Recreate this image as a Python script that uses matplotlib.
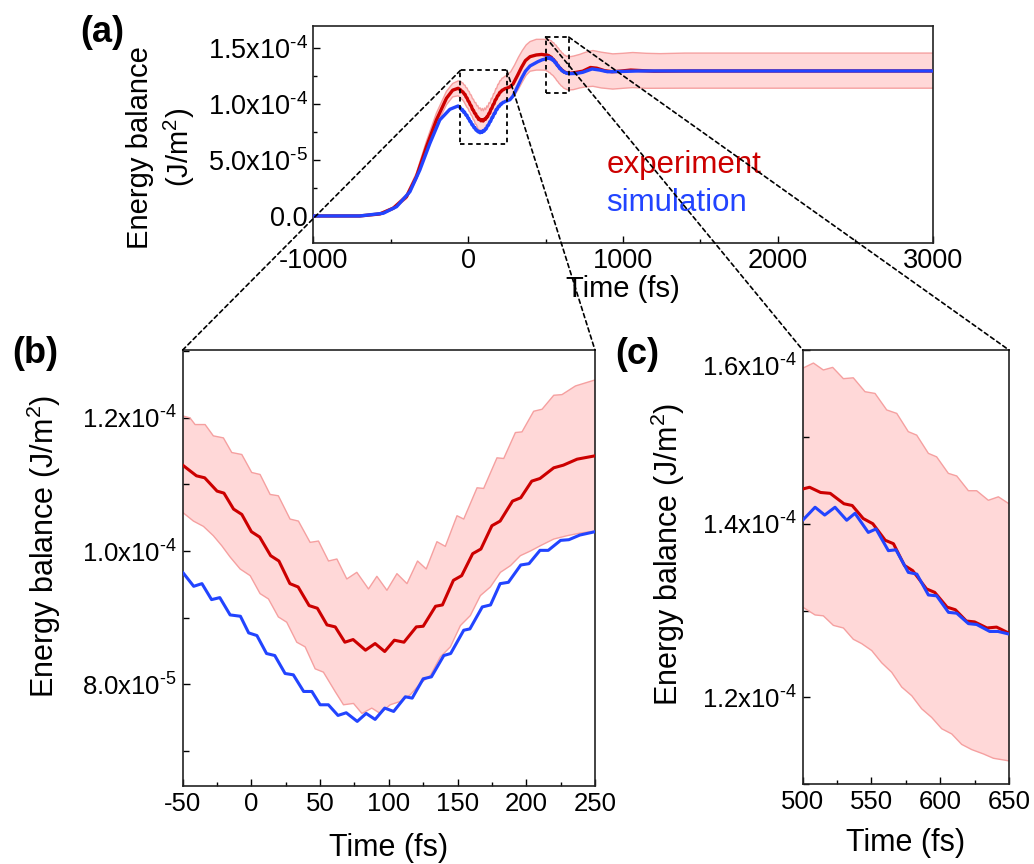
import numpy as np
import matplotlib
matplotlib.use('Agg')
import matplotlib.pyplot as plt
from matplotlib.patches import Rectangle, ConnectionPatch
from matplotlib.ticker import FuncFormatter, MultipleLocator

plt.rcParams['font.family'] = ['Liberation Sans', 'DejaVu Sans']
plt.rcParams['mathtext.fontset'] = 'custom'
plt.rcParams['mathtext.rm'] = 'Liberation Sans'
plt.rcParams['mathtext.it'] = 'Liberation Sans:italic'
plt.rcParams['axes.unicode_minus'] = False

# energy balance values in units of 1e-5 J/m^2, time in fs
t_exp = [-1000, -700, -570, -484, -398, -334, -269, -205, -140, -100, -65,
         -50, -40, -34, -25, -20, -13, -7, 0, 6, 14, 20, 28, 34, 42, 48, 55, 61, 68, 74,
         83, 90, 97, 104, 111, 120, 125, 134, 139, 147, 153, 161, 167, 175, 181, 190,
         196, 204, 210, 220, 227, 237, 250,
         270, 290, 320, 345, 370, 400, 440, 475,
         500, 505, 513, 520, 530, 536, 544, 551, 560, 566, 574, 580, 590, 596, 605,
         611, 619, 625, 634, 641, 650,
         700, 740, 790, 830, 880, 930, 980, 1050, 1120, 1200, 1400, 3000]
exp = [0.0, 0.0, 0.18, 0.69, 1.73, 3.52, 6.20, 8.59, 10.53, 11.25, 11.42,
       11.29, 11.13, 11.10, 10.90, 10.87, 10.63, 10.55, 10.29, 10.21, 9.93, 9.85, 9.51,
       9.46, 9.18, 9.14, 8.89, 8.86, 8.63, 8.67, 8.51, 8.61, 8.49, 8.66, 8.63, 8.86,
       8.87, 9.17, 9.19, 9.56, 9.63, 9.96, 10.03, 10.38, 10.45, 10.75, 10.80, 11.05,
       11.09, 11.25, 11.29, 11.38, 11.43,
       11.55, 11.80, 12.60, 13.30, 13.90, 14.25, 14.40, 14.45,
       14.40, 14.42, 14.36, 14.35, 14.23, 14.21, 14.06, 14.00, 13.81, 13.77, 13.52,
       13.46, 13.25, 13.21, 13.04, 13.01, 12.88, 12.87, 12.80, 12.81, 12.74,
       12.85, 12.95, 13.28, 13.22, 13.00, 12.90, 12.95, 13.05, 13.00, 12.95, 12.97, 12.97]

t_sim = [-1000, -700, -548, -462, -376, -312, -247, -183, -118, -65,
         -50, -42, -36, -29, -23, -15.5, -8, -2, 4, 11, 17, 24.5, 30.5, 38, 44, 50, 56,
         63, 69, 77, 83.5, 90, 97, 103.5, 112, 117, 125, 131, 140, 145, 154.5, 159, 168,
         174, 181, 187, 196, 202, 210, 216, 225, 231, 239, 250,
         270, 290, 320, 345, 370, 400, 450, 480,
         500, 509, 516, 523.5, 532, 538, 547.7, 553.3, 562.3, 567.8, 576.8, 583, 591.4,
         597.4, 606, 612, 620.5, 626.5, 636, 642, 650,
         700, 740, 800, 850, 900, 980, 1100, 3000]
sim = [0.0, 0.0, 0.24, 0.83, 2.17, 4.11, 6.50, 8.59, 9.54, 9.84,
       9.68, 9.47, 9.51, 9.27, 9.30, 9.04, 9.02, 8.77, 8.73, 8.46, 8.43, 8.16, 8.14,
       7.89, 7.89, 7.69, 7.69, 7.53, 7.57, 7.44, 7.56, 7.47, 7.64, 7.59, 7.81, 7.79,
       8.08, 8.11, 8.43, 8.46, 8.81, 8.83, 9.16, 9.19, 9.51, 9.53, 9.79, 9.81, 10.01,
       10.01, 10.16, 10.17, 10.24, 10.29,
       10.40, 10.73, 11.60, 12.32, 12.95, 13.42, 13.80, 13.98,
       14.04, 14.19, 14.10, 14.19, 14.04, 14.12, 13.90, 13.94, 13.69, 13.70, 13.44,
       13.42, 13.18, 13.17, 12.98, 12.97, 12.85, 12.84, 12.76, 12.76, 12.73,
       12.75, 12.85, 13.15, 13.05, 12.90, 12.92, 12.97, 12.97]

# experimental uncertainty band edges
t_up = [-1000, -700, -570, -484, -398, -334, -269, -205, -140, -100, -65,
        -50, -44.7, -41, -33.7, -27.7, -20.4, -14.3, -7, 0.2, 6.3, 13.6, 19.6, 28.1,
        34.2, 42.7, 48.8, 56.1, 62.2, 69.4, 76.7, 85.2, 91.3, 98.6, 105.9, 113.2,
        120.9, 127.2, 135, 141.1, 149.6, 154.5, 164.2, 169, 178.7, 183.6, 192.1, 196.9,
        205.4, 211.5, 220, 226, 235.8, 250,
        275, 300, 325, 350, 375, 400, 440, 470, 490,
        500, 507.8, 515, 521.8, 529.6, 536.8, 545.3, 552.6, 561.1, 568.4, 576.8, 582.9,
        591.4, 597.4, 605.9, 612, 620.5, 626.5, 635, 642.3, 650,
        680, 720, 760, 806, 860, 934, 1000, 1063, 1150, 1240, 1400, 3000]
up = [0.0, 0.02, 0.25, 0.80, 1.95, 3.85, 6.70, 9.20, 11.15, 11.85, 12.08,
      12.03, 12.00, 11.90, 11.90, 11.73, 11.70, 11.48, 11.45, 11.18, 11.15, 10.85,
      10.83, 10.48, 10.45, 10.13, 10.15, 9.85, 9.88, 9.58, 9.68, 9.43, 9.62, 9.41,
      9.66, 9.51, 9.85, 9.73, 10.14, 10.07, 10.53, 10.48, 10.95, 10.94, 11.40, 11.39,
      11.78, 11.79, 12.10, 12.13, 12.34, 12.35, 12.48, 12.57,
      12.90, 13.50, 14.20, 14.80, 15.30, 15.60, 15.80, 15.80, 15.80,
      15.79, 15.85, 15.77, 15.80, 15.67, 15.68, 15.52, 15.50, 15.31, 15.27, 15.06,
      15.02, 14.81, 14.77, 14.58, 14.55, 14.38, 14.38, 14.27, 14.31, 14.23,
      14.30, 14.45, 14.65, 14.80, 14.65, 14.50, 14.55, 14.62, 14.55, 14.52, 14.57, 14.57]

t_lo = [-1000, -700, -570, -484, -398, -334, -269, -205, -140, -100, -65,
        -50, -42.2, -34.9, -27.7, -21.6, -15.5, -8.2, -0.9, 6.3, 12.4, 19.6, 25.7, 33,
        39.1, 46.4, 52.4, 60.9, 67, 74.3, 80.4, 87.6, 93.7, 101, 108.3, 115.6, 122.9,
        130.2, 137.5, 144.8, 152.1, 159.3, 166.6, 173.9, 181.2, 188.5, 195.7, 203,
        210.3, 220, 229.7, 239.4, 250,
        275, 300, 325, 350, 375, 400, 440, 475,
        500, 509, 515, 522.3, 529.6, 536.8, 542.9, 550.2, 557.4, 564.7, 572, 579.3,
        586.5, 593.8, 601.1, 608.4, 615.6, 622.9, 631.4, 638.7, 650,
        680, 720, 760, 806, 860, 934, 1000, 1063, 1150, 1400, 3000]
lo = [0.0, -0.02, 0.12, 0.60, 1.55, 3.25, 5.80, 8.10, 9.95, 10.65, 10.75,
      10.58, 10.45, 10.37, 10.23, 10.08, 9.91, 9.73, 9.63, 9.36, 9.28, 9.01, 8.93,
      8.63, 8.56, 8.23, 8.18, 7.89, 7.69, 7.71, 7.56, 7.64, 7.56, 7.69, 7.74, 7.84,
      8.01, 8.13, 8.41, 8.56, 8.88, 9.03, 9.33, 9.46, 9.68, 9.78, 9.93, 10.00, 10.08,
      10.18, 10.23, 10.27, 10.30,
      10.45, 10.80, 11.35, 12.00, 12.60, 12.95, 13.05, 13.05,
      13.04, 12.95, 12.94, 12.83, 12.80, 12.67, 12.62, 12.54, 12.40, 12.29, 12.12,
      12.02, 11.87, 11.77, 11.64, 11.58, 11.46, 11.40, 11.35, 11.30, 11.27,
      11.30, 11.45, 11.55, 11.60, 11.45, 11.35, 11.42, 11.48, 11.42, 11.43, 11.43]

scale = 1e-5
RED = '#cc0000'
BLUE = '#2244ff'
FILL = '#ffd8d8'
EDGE = '#f5a0a0'


def sci_text(v):
    if abs(v) < 1e-12:
        return '0.0'
    e = int(np.floor(np.log10(abs(v)) + 1e-9))
    return f'{v / 10**e:.1f}x10$^{{\\text{{-}}{abs(e)}}}$'


def sci_label(v, pos):
    return sci_text(v)


def draw_curves(ax, lw):
    tu = np.array(t_up)
    tl = np.array(t_lo)
    ax.fill(np.concatenate([tu, tl[::-1]]),
            np.concatenate([np.array(up), np.array(lo)[::-1]]) * scale,
            color=FILL, lw=0, zorder=1)
    ax.plot(tu, np.array(up) * scale, color=EDGE, lw=1.0, zorder=2)
    ax.plot(tl, np.array(lo) * scale, color=EDGE, lw=1.0, zorder=2)
    ax.plot(t_exp, np.array(exp) * scale, color=RED, lw=lw, zorder=3)
    ax.plot(t_sim, np.array(sim) * scale, color=BLUE, lw=lw, zorder=4)


def style(ax, size):
    ax.tick_params(which='both', direction='in', top=False, right=False,
                   labelsize=size, width=1.0, pad=4)
    ax.tick_params(which='major', length=5)
    ax.tick_params(which='minor', length=3)
    ax.yaxis.set_major_formatter(FuncFormatter(sci_label))
    for s in ax.spines.values():
        s.set_linewidth(1.2)
        s.set_color('#222222')


fig = plt.figure(figsize=(10.34, 8.64), dpi=100)

ax_a = fig.add_axes([0.303, 0.719, 0.599, 0.251])
ax_b = fig.add_axes([0.1767, 0.0903, 0.3987, 0.5046])
ax_c = fig.add_axes([0.7763, 0.0922, 0.1995, 0.5027])

# (a) full trace
draw_curves(ax_a, 2.4)
style(ax_a, 19.5)
ax_a.set_xlim(-1000, 3000)
ax_a.set_ylim(-2.4e-5, 1.70e-4)
ax_a.set_xticks([-1000, 0, 1000, 2000, 3000])
ax_a.xaxis.set_minor_locator(MultipleLocator(500))
ax_a.set_yticks([0, 5e-5, 1e-4, 1.5e-4])
ax_a.yaxis.set_minor_locator(MultipleLocator(2.5e-5))
ax_a.set_xlabel('Time (fs)', fontsize=21)
ax_a.xaxis.set_label_coords(0.5, -0.15)
ax_a.set_ylabel('Energy balance\n(J/m$^2$)', fontsize=21, linespacing=1.3)
ax_a.yaxis.set_label_coords(-0.188, 0.44)
ax_a.text(0.4735, 0.32, 'experiment', color=RED, fontsize=22.5,
          transform=ax_a.transAxes, va='baseline')
ax_a.text(0.4735, 0.147, 'simulation', color=BLUE, fontsize=22.5,
          transform=ax_a.transAxes, va='baseline')

# (b) zoom on the dip
draw_curves(ax_b, 2.2)
style(ax_b, 18.5)
ax_b.set_xlim(-50, 250)
ax_b.set_ylim(6.47e-5, 1.302e-4)
ax_b.set_xticks(np.arange(-50, 251, 50))
ax_b.xaxis.set_minor_locator(MultipleLocator(25))
ax_b.set_yticks([8e-5, 1e-4, 1.2e-4])
ax_b.yaxis.set_minor_locator(MultipleLocator(1e-5))
ax_b.tick_params(axis='y', which='minor', length=4)
ax_b.set_xlabel('Time (fs)', fontsize=22)
ax_b.xaxis.set_label_coords(0.5, -0.108)
ax_b.set_ylabel('Energy balance (J/m$^2$)', fontsize=22)
ax_b.yaxis.set_label_coords(-0.29, 0.55)

# (c) zoom on the peak
draw_curves(ax_c, 2.2)
style(ax_c, 18.5)
ax_c.set_xlim(500, 650)
ax_c.set_ylim(1.10e-4, 1.60e-4)
ax_c.set_xticks([500, 550, 600, 650])
ax_c.xaxis.set_minor_locator(MultipleLocator(25))
c_yticks = [1.2e-4, 1.4e-4, 1.6e-4]
ax_c.set_yticks(c_yticks)
# the top label sits a little below the spine, as in the original
ax_c.set_yticklabels([sci_text(v) for v in c_yticks[:-1]] + [''])
ax_c.text(-0.027, 0.958, sci_text(c_yticks[-1]), fontsize=18.5,
          transform=ax_c.transAxes, ha='right', va='center')
ax_c.yaxis.set_minor_locator(MultipleLocator(1e-5))
ax_c.tick_params(axis='y', which='minor', length=4)
ax_c.set_xlabel('Time (fs)', fontsize=22)
ax_c.xaxis.set_label_coords(0.5, -0.10)
ax_c.set_ylabel('Energy balance (J/m$^2$)', fontsize=22)
ax_c.yaxis.set_label_coords(-0.561, 0.53)

# zoom boxes and connectors
dash = (0, (2.5, 2))
for ax_z in (ax_b, ax_c):
    x0, x1 = ax_z.get_xlim()
    y0, y1 = ax_z.get_ylim()
    ax_a.add_patch(Rectangle((x0, y0), x1 - x0, y1 - y0, fill=False,
                             ec='black', lw=1.3, ls=dash, zorder=6))
    for xa, xb in ((x0, 0), (x1, 1)):
        con = ConnectionPatch(xyA=(xa, y1), coordsA=ax_a.transData,
                              xyB=(xb, 1), coordsB=ax_z.transAxes,
                              color='black', lw=1.2, ls=dash, zorder=10)
        fig.add_artist(con)

fig.text(102 / 1034, 1 - 32 / 864, '(a)', fontsize=26, fontweight='bold',
         ha='center', va='center')
fig.text(35 / 1034, 1 - 353 / 864, '(b)', fontsize=26, fontweight='bold',
         ha='center', va='center')
fig.text(637 / 1034, 1 - 355 / 864, '(c)', fontsize=26, fontweight='bold',
         ha='center', va='center')

fig.savefig('out.png', dpi=100)
